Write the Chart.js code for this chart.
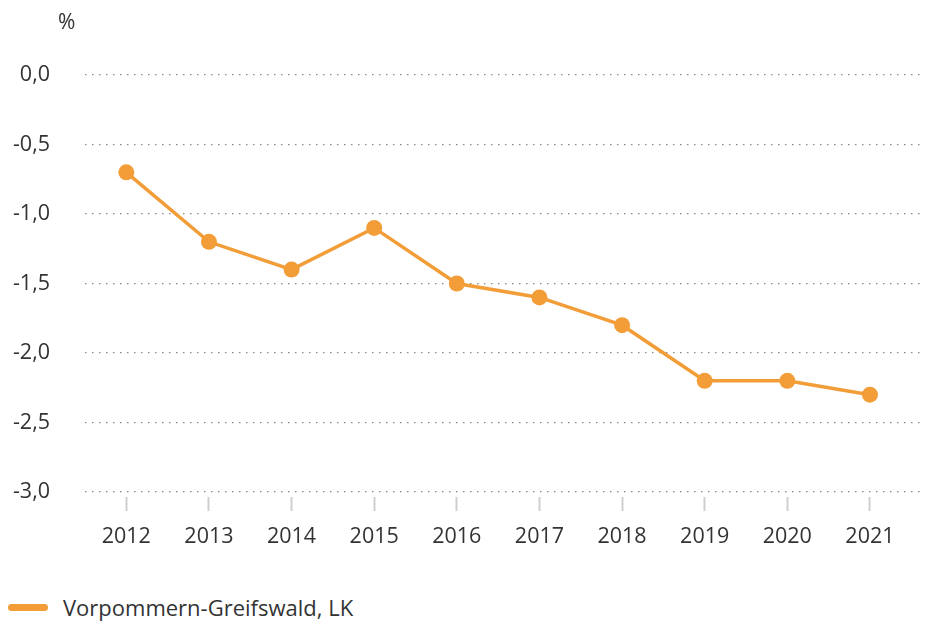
<!DOCTYPE html>
<html>
<head>
<meta charset="utf-8">
<script src="https://cdn.jsdelivr.net/npm/chart.js@4/dist/chart.umd.min.js"></script>
<style>
  html, body { margin: 0; padding: 0; background: #fff; }
  body { width: 930px; height: 624px; overflow: hidden; font-family: 'Open Sans', sans-serif; }
  #wrap { position: relative; width: 930px; height: 560px; }
  .legend { display: flex; align-items: center; margin-top: 32px; padding-left: 8px; color: #333; font-size: 22px; line-height: 30px; }
  .legend .mark { display: inline-block; width: 40px; height: 7px; border-radius: 4px; background: #f29d38; margin-right: 15px; }
</style>
</head>
<body>
<div id="wrap"><canvas id="chart"></canvas></div>
<div class="legend"><span class="mark"></span><span id="legendText"></span></div>
<script>
// data
const years = [2012, 2013, 2014, 2015, 2016, 2017, 2018, 2019, 2020, 2021];
const values = [-0.7, -1.2, -1.4, -1.1, -1.5, -1.6, -1.8, -2.2, -2.2, -2.3];
const seriesName = 'Vorpommern-Greifswald, LK';
const unitLabel = '%';

const orange = '#f29d38';
const textColor = '#333';
const font = { family: "'Open Sans', sans-serif", size: 21.5 };

document.getElementById('legendText').textContent = seriesName;

// small "%" caption above the y axis
const unitPlugin = {
  id: 'unitLabel',
  afterDraw(chart) {
    const { ctx, chartArea } = chart;
    ctx.save();
    ctx.font = `21px ${font.family}`;
    ctx.fillStyle = textColor;
    ctx.textAlign = 'left';
    ctx.textBaseline = 'middle';
    ctx.fillText(unitLabel, chartArea.left - 27, chartArea.top - 52);
    ctx.restore();
  }
};

new Chart(document.getElementById('chart'), {
  type: 'line',
  data: {
    datasets: [{
      label: seriesName,
      data: years.map((y, i) => ({ x: y, y: values[i] })),
      borderColor: orange,
      backgroundColor: orange,
      borderWidth: 3.5,
      pointRadius: 8,
      pointBackgroundColor: orange,
      pointBorderWidth: 0,
      tension: 0
    }]
  },
  options: {
    responsive: true,
    maintainAspectRatio: false,
    animation: false,
    layout: { padding: { top: 75, right: 2, bottom: 8, left: 0 } },
    plugins: {
      legend: { display: false },
      tooltip: { enabled: false }
    },
    scales: {
      x: {
        type: 'linear',
        min: 2011.5,
        max: 2021.63,
        afterBuildTicks: scale => { scale.ticks = years.map(v => ({ value: v })); },
        afterFit: scale => { scale.height = 60; },
        border: { display: false },
        grid: {
          drawOnChartArea: false,
          drawTicks: true,
          tickLength: 19,
          tickColor: '#cfcfcf',
          tickWidth: 2,
          tickBorderDash: [0, 5, 14]
        },
        ticks: {
          font,
          color: textColor,
          padding: 13,
          maxRotation: 0,
          callback: v => String(v)
        }
      },
      y: {
        min: -3,
        max: 0,
        afterFit: scale => { scale.width = 85; },
        border: { display: false, dash: [1.5, 5.5] },
        grid: {
          color: '#8a8a8a',
          lineWidth: 1.2,
          drawTicks: false
        },
        ticks: {
          stepSize: 0.5,
          font,
          color: textColor,
          padding: 35,
          callback: v => v.toFixed(1).replace('.', ',')
        }
      }
    }
  },
  plugins: [unitPlugin]
});
</script>
</body>
</html>
